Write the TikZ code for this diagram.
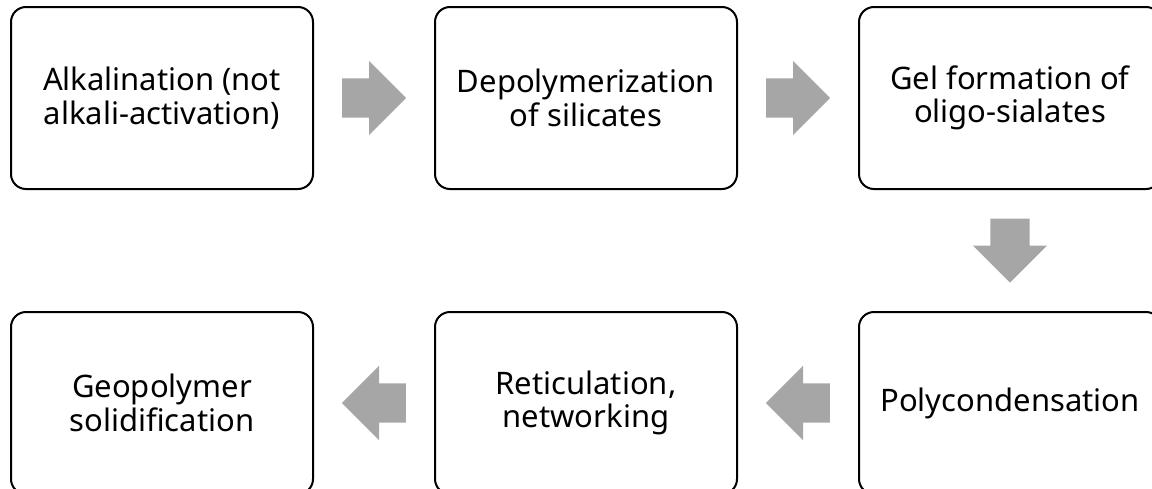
\documentclass[tikz,border=0pt]{standalone}
\usepackage{fontspec}
\setmainfont{Noto Sans}
\usetikzlibrary{calc}
\usetikzlibrary{shapes.arrows}
\usetikzlibrary{positioning}
\definecolor{arrowgray}{HTML}{A6A6A6}

\begin{document}
\begin{tikzpicture}[x=1pt, y=1pt,
    stage/.style={draw, line width=2pt, rounded corners=15pt, minimum width=302pt,
      minimum height=182pt, inner sep=0pt, align=center,
      font=\fontsize{31}{33.5}\selectfont},
    flow/.style={single arrow, fill=arrowgray, draw=none, anchor=tail, inner xsep=0pt,
      inner ysep=19.5pt, minimum height=64pt, single arrow head extend=17.5pt}]
    \useasboundingbox (0,0) rectangle (1152,-488);
    % Top row
    \node[stage] (alk) at (162,-98) {Alkalination (not\\alkali-activation)};
    \node[stage, right=120pt of alk] (depol) {Depolymerization\\of silicates};
    \node[stage, right=120pt of depol] (gel) {Gel formation of\\oligo-sialates};
    % Bottom row
    \node[stage, below=121pt of gel] (poly) {Polycondensation};
    \node[stage, left=120pt of poly] (retic) {Reticulation,\\networking};
    \node[stage, left=120pt of retic] (geo) {Geopolymer\\solidification};
    % Block arrows
    \node[flow] (a1) at ($(alk.east)!0.5!(depol.west)+(-32,0)$) {};
    \node[flow] (a2) at ($(depol.east)!0.5!(gel.west)+(-32,0)$) {};
    \node[flow, rotate=-90] (a3) at ($(gel.south)!0.5!(poly.north)+(0,32)$) {};
    \node[flow, rotate=180] (a4) at ($(poly.west)!0.5!(retic.east)+(32,0)$) {};
    \node[flow, rotate=180] (a5) at ($(retic.west)!0.5!(geo.east)+(32,0)$) {};
\end{tikzpicture}
\end{document}
